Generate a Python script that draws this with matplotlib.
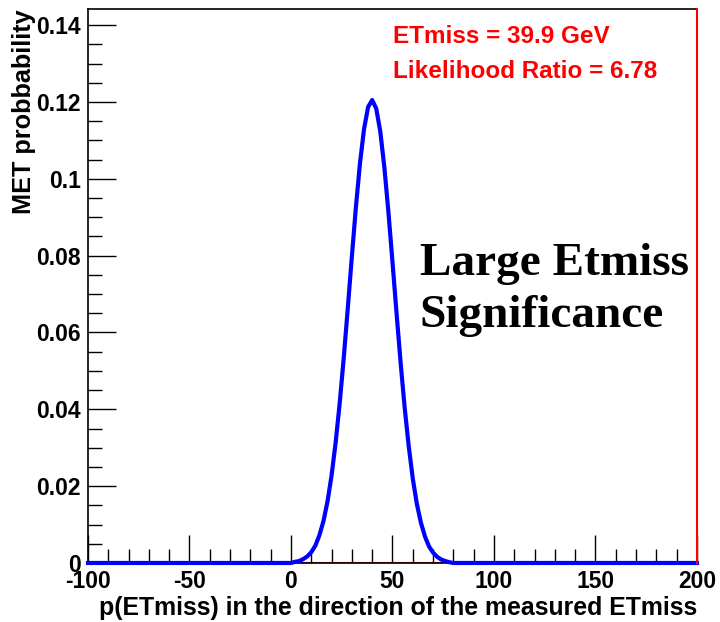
import numpy as np
import matplotlib.pyplot as plt
from matplotlib.ticker import MultipleLocator

# MET probability curve
x_vals = [-100, 0, 2, 4, 6, 8, 10, 12, 14, 16, 18, 20, 22, 24, 26, 28, 30, 32, 34, 36, 38, 40,
          42, 44, 46, 48, 50, 52, 54, 56, 58, 60, 62, 64, 66, 68, 70, 72, 74, 76, 78, 80, 200]
p_vals = [0.0, 0.0, 0.0003, 0.0005, 0.0010, 0.0017, 0.0028, 0.0045, 0.0072, 0.0109, 0.0160,
          0.0228, 0.0313, 0.0416, 0.0534, 0.0664, 0.0798, 0.0927, 0.1041, 0.1130, 0.1187, 0.1205,
          0.1183, 0.1123, 0.1030, 0.0914, 0.0784, 0.0651, 0.0522, 0.0405, 0.0304, 0.0220, 0.0154,
          0.0105, 0.0069, 0.0043, 0.0027, 0.0016, 0.0009, 0.0005, 0.0002, 0.0, 0.0]

x_ticks = [-100, -50, 0, 50, 100, 150, 200]
y_ticks = [0, 0.02, 0.04, 0.06, 0.08, 0.1, 0.12, 0.14]
y_labels = ['0', '0.02', '0.04', '0.06', '0.08', '0.1', '0.12', '0.14']

et_miss = 39.9
likelihood_ratio = 6.78

plt.rcParams['font.family'] = ['Liberation Sans', 'DejaVu Sans']
plt.rcParams['font.weight'] = 'bold'

fig = plt.figure(figsize=(7.2, 6.22), dpi=100)
ax = fig.add_axes([0.1222, 0.0949, 0.8458, 0.8906])

# red reference lines (second histogram drawn in red)
ax.plot([5, 78], [0, 0], color='red', lw=1.5, zorder=2)
ax.plot([200, 200], [0, 0.1442], color='red', lw=1.5, zorder=5, clip_on=False)

ax.plot(x_vals, p_vals, color='#0000ff', lw=3, zorder=3, clip_on=False)

ax.set_xlim(-100, 200)
ax.set_ylim(0, 0.1442)

ax.set_xticks(x_ticks)
ax.set_xticklabels([str(t) for t in x_ticks])
ax.xaxis.set_minor_locator(MultipleLocator(10))
ax.set_yticks(y_ticks)
ax.set_yticklabels(y_labels)
ax.yaxis.set_minor_locator(MultipleLocator(0.005))

ax.tick_params(which='both', direction='in', top=False, right=False, labelsize=16.5, width=1)
ax.tick_params(which='major', length=20, pad=5)
ax.tick_params(which='minor', length=10)
for s in ax.spines.values():
    s.set_linewidth(1.2)

ax.set_xlabel('p(ETmiss) in the direction of the measured ETmiss', fontsize=17.9,
              fontweight='bold', loc='right', labelpad=2)
ax.set_ylabel('MET probbability', fontsize=18.2, fontweight='bold', loc='top', labelpad=0)

ax.text(0.501, 0.950, 'ETmiss = %.1f GeV' % et_miss, transform=ax.transAxes, color='red',
        fontsize=17.5, fontweight='bold', va='center')
ax.text(0.501, 0.887, 'Likelihood Ratio = %.2f' % likelihood_ratio, transform=ax.transAxes,
        color='red', fontsize=17.5, fontweight='bold', va='center')

ax.text(0.545, 0.493, 'Large Etmiss\nSignificance', transform=ax.transAxes,
        family='Liberation Serif', fontsize=34, fontweight='bold', va='center',
        linespacing=1.3)

fig.savefig('out.png', dpi=100)
